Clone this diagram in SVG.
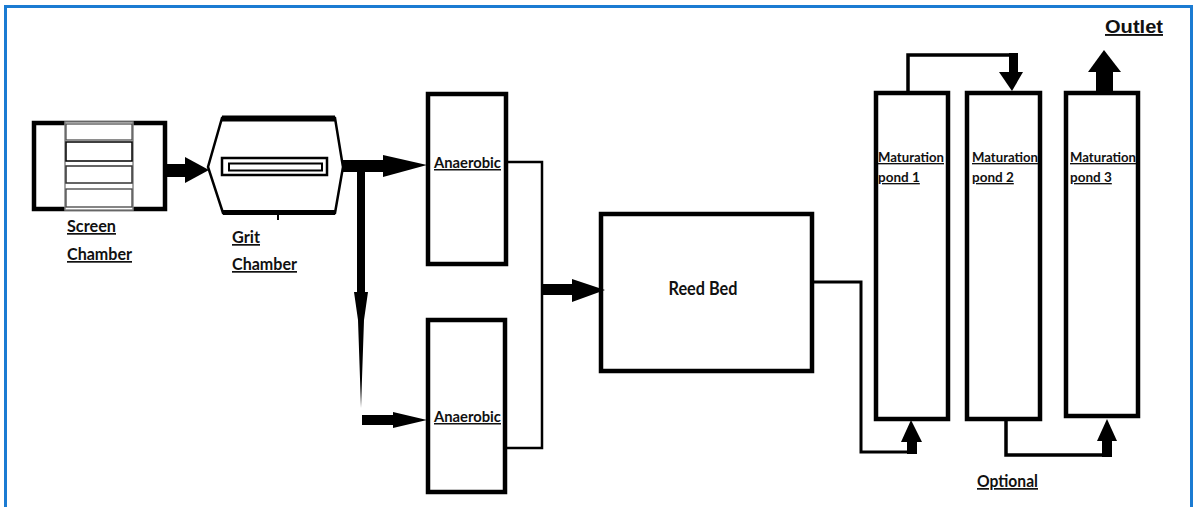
<svg xmlns="http://www.w3.org/2000/svg" width="1196" height="507" viewBox="0 0 1196 507">
<style>
.box{fill:#fff;stroke:#000;stroke-width:4.5}
.thin{fill:none;stroke:#000;stroke-width:2.5}
.lbl{font-family:Lato,"Open Sans","Liberation Sans",sans-serif;font-weight:700;fill:#111;text-decoration:underline}
.blk{fill:#000}
</style>
<rect x="0" y="0" width="1196" height="507" fill="#fff"/>
<path d="M5.5,520 V6.5 H1191.5 V520" fill="none" stroke="#1b7bd2" stroke-width="3"/>

<g id="screen-chamber">
<rect class="box" x="34" y="123" width="131" height="86"/>
<rect x="65" y="122" width="68" height="88" fill="#fff" stroke="#888" stroke-width="1.5"/>
<rect x="66" y="124" width="66" height="16" fill="none" stroke="#444" stroke-width="1.2"/>
<rect x="66" y="142" width="66" height="19" fill="none" stroke="#000" stroke-width="1.5"/>
<rect x="66" y="166" width="66" height="17" fill="none" stroke="#333" stroke-width="1.5"/>
<rect x="66" y="189" width="66" height="18" fill="none" stroke="#444" stroke-width="1.3"/>
<text class="lbl" x="67" y="232" font-size="17" textLength="49" lengthAdjust="spacingAndGlyphs">Screen</text>
<text class="lbl" x="67" y="260" font-size="17" textLength="65" lengthAdjust="spacingAndGlyphs">Chamber</text>
</g>

<g id="grit-chamber">
<polygon points="222,118 335,118 343,167 335,213 223,213 208,167" fill="#fff" stroke="#000" stroke-width="2.5"/>
<line x1="222" y1="118.5" x2="335" y2="118.5" stroke="#000" stroke-width="6"/>
<line x1="223" y1="212.5" x2="335" y2="212.5" stroke="#000" stroke-width="5"/>
<line x1="278" y1="212" x2="278" y2="220" stroke="#000" stroke-width="2"/>
<rect x="222" y="158" width="105" height="17" fill="none" stroke="#000" stroke-width="2.5"/>
<rect x="229" y="163.5" width="93" height="7" fill="none" stroke="#000" stroke-width="2"/>
<text class="lbl" x="232" y="243" font-size="17" textLength="28" lengthAdjust="spacingAndGlyphs">Grit</text>
<text class="lbl" x="232" y="270" font-size="17" textLength="65" lengthAdjust="spacingAndGlyphs">Chamber</text>
</g>

<g id="anaerobic-1">
<rect class="box" x="428" y="94" width="78" height="170"/>
<text class="lbl" x="434" y="168" font-size="15" textLength="67" lengthAdjust="spacingAndGlyphs">Anaerobic</text>
</g>

<g id="anaerobic-2">
<rect class="box" x="428" y="320" width="77" height="172"/>
<text class="lbl" x="434" y="422" font-size="15" textLength="67" lengthAdjust="spacingAndGlyphs">Anaerobic</text>
</g>

<g id="reed-bed">
<rect class="box" x="601" y="214" width="211" height="157"/>
<text x="703" y="295" font-family="Lato,'Open Sans','Liberation Sans',sans-serif" font-weight="700" font-size="18" fill="#111" text-anchor="middle" textLength="69" lengthAdjust="spacingAndGlyphs">Reed Bed</text>
</g>

<g id="pond-1">
<rect class="box" x="876" y="93" width="72" height="326"/>
<text class="lbl" x="878" y="162" font-size="13.5" textLength="66" lengthAdjust="spacingAndGlyphs">Maturation</text>
<text class="lbl" x="878" y="182" font-size="13.5">pond <tspan>1</tspan></text>
</g>

<g id="pond-2">
<rect class="box" x="967" y="93" width="73" height="326"/>
<text class="lbl" x="972" y="162" font-size="13.5" textLength="66" lengthAdjust="spacingAndGlyphs">Maturation</text>
<text class="lbl" x="972" y="182" font-size="13.5">pond 2</text>
</g>

<g id="pond-3">
<rect class="box" x="1066" y="93" width="72" height="323"/>
<text class="lbl" x="1070" y="162" font-size="13.5" textLength="66" lengthAdjust="spacingAndGlyphs">Maturation</text>
<text class="lbl" x="1070" y="182" font-size="13.5">pond 3</text>
</g>

<g id="labels">
<text x="1105" y="33" font-family="'Liberation Sans',Arial,sans-serif" font-weight="700" font-size="19" fill="#111" text-decoration="underline" textLength="58" lengthAdjust="spacingAndGlyphs">Outlet</text>
<text class="lbl" x="977" y="487" font-size="17" textLength="61" lengthAdjust="spacingAndGlyphs">Optional</text>
</g>

<g id="connectors">
<rect class="blk" x="167" y="164" width="22" height="13"/>
<polygon class="blk" points="185,157 209,170 185,183"/>
<rect class="blk" x="343" y="160" width="44" height="12"/>
<polygon class="blk" points="383,155 427,165 383,177"/>
<rect class="blk" x="357" y="166" width="8" height="128"/>
<polygon class="blk" points="354,292 368,292 364,320 361,408 358,320"/>
<rect class="blk" x="362" y="415" width="34" height="10"/>
<polygon class="blk" points="393,412 427,420 393,428"/>
<polyline class="thin" points="507,162 542,162 542,448 503,448"/>
<rect class="blk" x="542" y="284" width="34" height="11"/>
<polygon class="blk" points="572,279 605,290 572,302"/>
<polyline points="812,282 861,282 861,452 912,452" fill="none" stroke="#000" stroke-width="3"/>
<rect class="blk" x="907" y="438" width="10" height="16"/>
<polygon class="blk" points="901,442 911,420 922,442"/>
<polyline points="908,93 908,55 1013,55 1013,74" fill="none" stroke="#000" stroke-width="3.5"/>
<rect class="blk" x="1009" y="53" width="9" height="21"/>
<polygon class="blk" points="999,72 1023,72 1012,91"/>
<rect class="blk" x="1096" y="70" width="17" height="23"/>
<polygon class="blk" points="1088,72 1104,50 1121,72"/>
<polyline points="1006,419 1006,455 1108,455" fill="none" stroke="#000" stroke-width="3.5"/>
<rect class="blk" x="1102" y="438" width="10" height="19"/>
<polygon class="blk" points="1097,441 1107,419 1117,441"/>
</g>
</svg>
